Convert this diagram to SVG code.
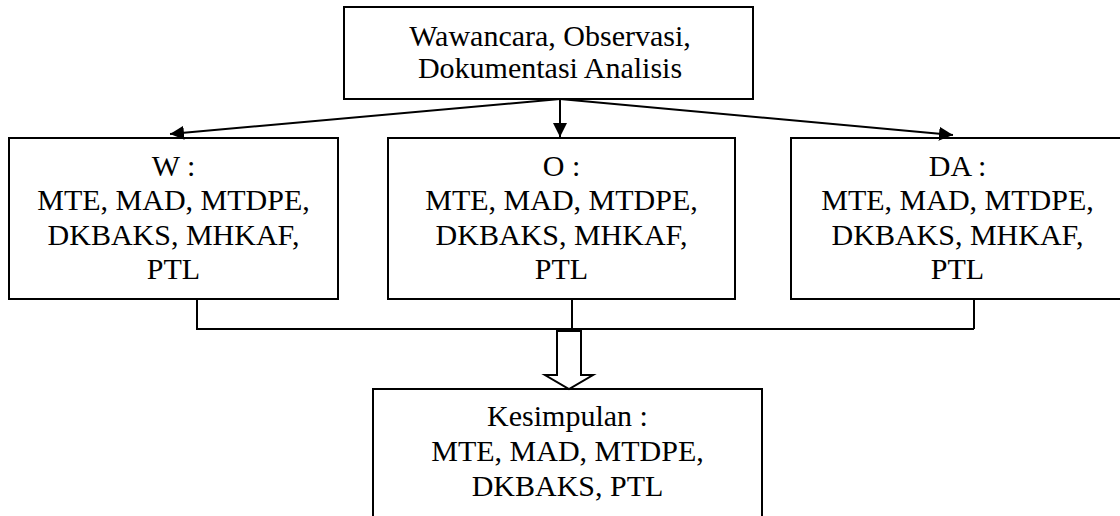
<svg xmlns="http://www.w3.org/2000/svg" width="1120" height="516" viewBox="0 0 1120 516">
<style>
.box{fill:#fff;stroke:#000;stroke-width:2}
.t{font-family:"Liberation Serif","Times New Roman",serif;font-size:30px;fill:#000;text-anchor:middle}
.ln{fill:none;stroke:#000;stroke-width:2}
</style>
<defs>
<marker id="ah" viewBox="0 0 14 14" refX="14" refY="7" markerWidth="14" markerHeight="14" markerUnits="userSpaceOnUse" orient="auto">
<path d="M0,0 L14,7 L0,14 z" fill="#000"/>
</marker>
</defs>
<rect width="1120" height="516" fill="#fff"/>
<g id="top">
<rect class="box" x="344" y="7" width="409" height="92"/>
<text class="t" x="550" y="46">Wawancara, Observasi,</text>
<text class="t" x="550" y="78">Dokumentasi Analisis</text>
</g>
<g id="w">
<rect class="box" x="9" y="138" width="329" height="161"/>
<text class="t" x="173.5" y="175.5">W :</text>
<text class="t" x="173.5" y="210">MTE, MAD, MTDPE,</text>
<text class="t" x="173.5" y="244.5">DKBAKS, MHKAF,</text>
<text class="t" x="173.5" y="279">PTL</text>
</g>
<g id="o">
<rect class="box" x="388" y="138" width="347" height="161"/>
<text class="t" x="561.5" y="175.5">O :</text>
<text class="t" x="561.5" y="210">MTE, MAD, MTDPE,</text>
<text class="t" x="561.5" y="244.5">DKBAKS, MHKAF,</text>
<text class="t" x="561.5" y="279">PTL</text>
</g>
<g id="da">
<rect class="box" x="791" y="138" width="333" height="161"/>
<text class="t" x="957.5" y="175.5">DA :</text>
<text class="t" x="957.5" y="210">MTE, MAD, MTDPE,</text>
<text class="t" x="957.5" y="244.5">DKBAKS, MHKAF,</text>
<text class="t" x="957.5" y="279">PTL</text>
</g>
<g id="kesimpulan">
<rect class="box" x="373" y="389" width="389" height="150"/>
<text class="t" x="567.5" y="426">Kesimpulan :</text>
<text class="t" x="567.5" y="461">MTE, MAD, MTDPE,</text>
<text class="t" x="567.5" y="496">DKBAKS, PTL</text>
</g>
<g id="connectors">
<line class="ln" x1="560" y1="99" x2="170" y2="134" marker-end="url(#ah)"/>
<line class="ln" x1="560" y1="99" x2="560" y2="137" marker-end="url(#ah)"/>
<line class="ln" x1="560" y1="99" x2="953" y2="135" marker-end="url(#ah)"/>
<polyline class="ln" points="197,299 197,329 974,329"/>
<line class="ln" x1="572" y1="299" x2="572" y2="329"/>
<line class="ln" x1="974" y1="299" x2="974" y2="329"/>
<polygon class="ln" fill="#fff" points="557,331 581,331 581,375 593,375 569,389 545,375 557,375"/>
</g>
</svg>
